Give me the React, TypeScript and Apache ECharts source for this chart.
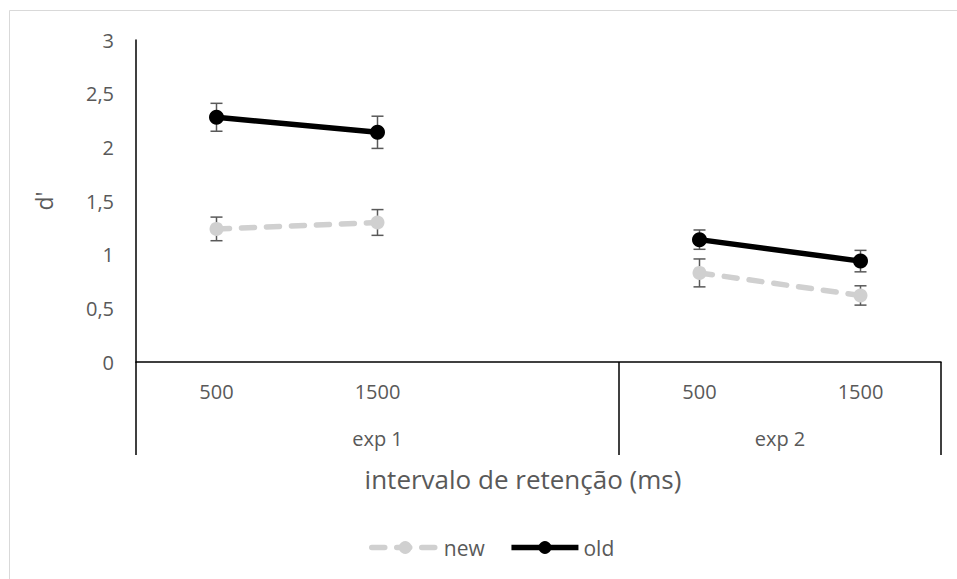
import React, { useEffect, useRef } from "react";
import * as echarts from "echarts";

const categories = ["500", "1500", "", "500", "1500"];
const groupLabels = ["exp 1", "exp 2"];
const groupCenters = [1.5, 4];
const yTicks = [0, 0.5, 1, 1.5, 2, 2.5, 3];
const newMeans = [1.24, 1.3, null, 0.83, 0.62];
const newErr = [0.11, 0.12, null, 0.13, 0.09];
const oldMeans = [2.28, 2.14, null, 1.14, 0.94];
const oldErr = [0.13, 0.15, null, 0.09, 0.1];

const FONT = "Open Sans";
const TXT = "#595959";

function errData(means: (number | null)[], errs: (number | null)[]) {
  const out: number[][] = [];
  means.forEach((m, i) => {
    const e = errs[i];
    if (m != null && e != null) out.push([i, m - e, m + e]);
  });
  return out;
}

function renderErr(params: any, api: any) {
  const x = api.value(0);
  const lo = api.coord([x, api.value(1)]);
  const hi = api.coord([x, api.value(2)]);
  const w = 6;
  const style = { stroke: "#595959", lineWidth: 1.5, fill: "none" };
  return {
    type: "group",
    children: [
      { type: "line", shape: { x1: lo[0], y1: lo[1], x2: hi[0], y2: hi[1] }, style },
      { type: "line", shape: { x1: lo[0] - w, y1: lo[1], x2: lo[0] + w, y2: lo[1] }, style },
      { type: "line", shape: { x1: hi[0] - w, y1: hi[1], x2: hi[0] + w, y2: hi[1] }, style },
    ],
  };
}

export default function App() {
  const ref = useRef<HTMLDivElement>(null);
  useEffect(() => {
    document.body.style.margin = "0";
    const chart = echarts.init(ref.current!, undefined, { renderer: "svg" });
    chart.setOption({
      animation: false,
      backgroundColor: "#fff",
      textStyle: { fontFamily: FONT },
      grid: { left: 136, right: 16, top: 40, bottom: 217 },
      legend: {
        left: 369,
        top: 537,
        padding: 0,
        itemWidth: 67,
        itemHeight: 16,
        itemGap: 24,
        textStyle: { color: TXT, fontSize: 21, fontFamily: FONT },
        lineStyle: { width: 5.5 },
        data: ["new", "old"],
      },
      graphic: [
        {
          type: "rect",
          shape: { x: 9.5, y: 10.5, width: 1000, height: 1000 },
          style: { fill: "none", stroke: "#d9d9d9", lineWidth: 1 },
          silent: true,
          z: -1,
        },
        {
          type: "text",
          x: 523,
          y: 479,
          style: {
            text: "intervalo de retenção (ms)",
            fill: TXT,
            font: `26px "${FONT}"`,
            align: "center",
            verticalAlign: "middle",
          },
        },
      ],
      xAxis: [
        {
          type: "category",
          data: categories,
          boundaryGap: true,
          axisLine: { show: true, lineStyle: { color: "#000", width: 1.5 } },
          axisTick: {
            show: true,
            length: 93,
            interval: (i: number) => i === 0 || i === 3,
            lineStyle: { color: "#000", width: 1.5 },
          },
          axisLabel: { color: TXT, fontSize: 20, margin: 19, interval: 0 },
          splitLine: { show: false },
        },
        {
          type: "value",
          position: "bottom",
          min: 0,
          max: 5,
          interval: 0.5,
          axisLine: { show: false },
          axisTick: { show: false },
          splitLine: { show: false },
          axisLabel: {
            color: TXT,
            fontSize: 20,
            margin: 66,
            showMinLabel: true,
            showMaxLabel: true,
            formatter: (v: number) => {
              const k = groupCenters.findIndex((c) => Math.abs(c - v) < 1e-6);
              return k >= 0 ? groupLabels[k] : "";
            },
          },
        },
      ],
      yAxis: {
        type: "value",
        min: yTicks[0],
        max: yTicks[yTicks.length - 1],
        interval: 0.5,
        name: "d'",
        nameLocation: "middle",
        nameGap: 81,
        nameRotate: 90,
        nameTextStyle: { color: TXT, fontSize: 23 },
        axisLine: { show: true, lineStyle: { color: "#000", width: 1.5 } },
        axisTick: { show: false },
        splitLine: { show: false },
        axisLabel: {
          color: TXT,
          fontSize: 20,
          margin: 22,
          formatter: (v: number) => String(v).replace(".", ","),
        },
      },
      series: [
        {
          name: "newErr",
          type: "custom",
          renderItem: renderErr,
          data: errData(newMeans, newErr),
          z: 1,
          silent: true,
        },
        {
          name: "oldErr",
          type: "custom",
          renderItem: renderErr,
          data: errData(oldMeans, oldErr),
          z: 1,
          silent: true,
        },
        {
          name: "new",
          type: "line",
          data: newMeans,
          connectNulls: false,
          symbol: "circle",
          symbolSize: 14,
          itemStyle: { color: "#d0d0d0" },
          lineStyle: { color: "#d0d0d0", width: 5.5, type: [13, 12], cap: "round" },
          z: 3,
        },
        {
          name: "old",
          type: "line",
          data: oldMeans,
          connectNulls: false,
          symbol: "circle",
          symbolSize: 15,
          itemStyle: { color: "#000" },
          lineStyle: { color: "#000", width: 5.5 },
          z: 4,
        },
      ],
    });
    return () => chart.dispose();
  }, []);
  return <div ref={ref} style={{ width: 957, height: 579 }} />;
}
